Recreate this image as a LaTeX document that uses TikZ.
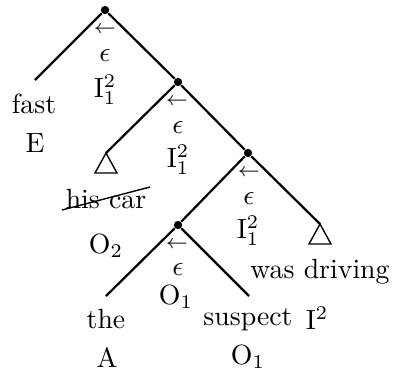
\documentclass[tikz,border=0pt]{standalone}
\usepackage{amsmath}
\usetikzlibrary{positioning}

\begin{document}
\begin{tikzpicture}[x=0.36pt, y=-0.36pt,
  branch/.style={line width=0.8pt},
  dot/.style={circle, fill, inner sep=0pt, minimum size=3pt},
  word/.style={inner sep=0pt},
  mv/.style={font=\scriptsize, inner sep=0pt},
  gap/.style={inner sep=0pt},
  tri/.style={line width=0.5pt}
]
\useasboundingbox (0,0) rectangle (393,374);

% branching points
\node[dot] (root) at (105,10) {};
\node[dot] (nb) at (178,82) {};
\node[dot] (nc) at (248,153) {};
\node[dot] (nd) at (178,225) {};

% leaves and roofs
\coordinate (fastend) at (35,80);
\coordinate (theend) at (106,296);
\coordinate (suspend) at (249,296);
\coordinate (roofa) at (106,153);
\coordinate (roofb) at (320,224);

\draw[branch] (root) -- (fastend);
\draw[branch] (root) -- (nb);
\draw[branch] (nb) -- (roofa);
\draw[branch] (nb) -- (nc);
\draw[branch] (nc) -- (nd);
\draw[branch] (nc) -- (roofb);
\draw[branch] (nd) -- (theend);
\draw[branch] (nd) -- (suspend);

\draw[tri] (roofa) -- ++(-11,20) -- ++(22,0) -- cycle;
\draw[tri] (roofb) -- ++(-11,20) -- ++(22,0) -- cycle;

% movement labels
\node[mv] (ra) at (105,30) {$\leftarrow$};
\node[gap] (re) at (105,56) {$\epsilon$};
\node[word] (ri) at (105,90) {$\mathrm{I}^2_1$};
\node[mv] (ba) at (177,102) {$\leftarrow$};
\node[gap] (be) at (178,128) {$\epsilon$};
\node[word] (bi) at (178,160) {$\mathrm{I}^2_1$};
\node[mv] (ca) at (249,173) {$\leftarrow$};
\node[gap] (ce) at (249,199) {$\epsilon$};
\node[word] (ci) at (248,231) {$\mathrm{I}^2_1$};
\node[mv] (da) at (177,245) {$\leftarrow$};
\node[gap] (de) at (178,270) {$\epsilon$};
\node[word] (do) at (176,297) {$\mathrm{O}_1$};

% words
\node[word] (fast) at (34,104) {fast};
\node[word] (fastc) at (35,143) {E};
\node[word] (hiscar) at (106,199) {his car};
\node[word] (hiscarc) at (106,246) {$\mathrm{O}_2$};
\node[word] (the) at (106,319) {the};
\node[word] (thec) at (107,358) {A};
\node[word] (susp) at (248,320) {suspect};
\node[word] (suspc) at (248,357) {$\mathrm{O}_1$};
\node[word] (drive) at (320,272) {was driving};
\node[word] (drivec) at (317,318) {$\mathrm{I}^2$};

% struck out
\coordinate (strikea) at (62,210);
\coordinate (strikeb) at (150,187);
\draw[line width=0.5pt] (strikea) -- (strikeb);

\end{tikzpicture}
\end{document}
